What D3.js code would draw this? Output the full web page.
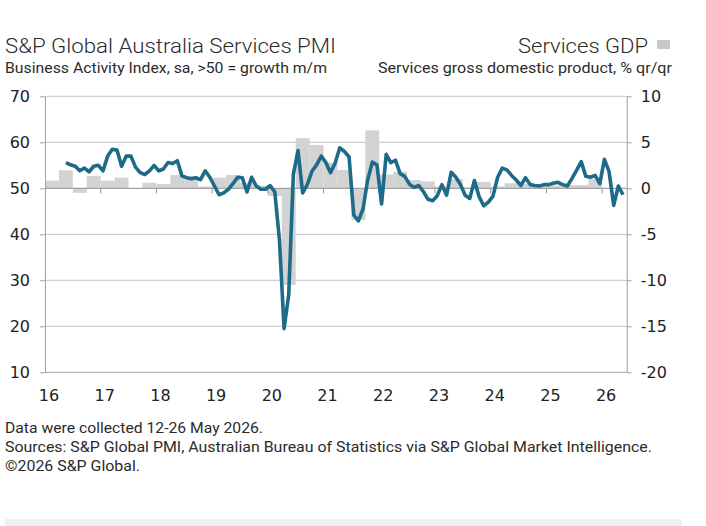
<!DOCTYPE html>
<html>
<head>
<meta charset="utf-8">
<script src="https://cdn.jsdelivr.net/npm/d3@7"></script>
<style>
  body { margin: 0; background: #fff; }
  svg text { font-family: "DejaVu Sans", sans-serif; }
</style>
</head>
<body>
<svg id="chart" width="706" height="526"></svg>
<script>
// PMI, monthly, first value = May 2016 (month 4 counted from Jan 2016)
const pmiStartMonth = 4;
const pmiValues = [
  55.6, 55.1, 54.8, 53.8, 54.4, 53.6, 54.8, 55.0,                         // 2016
  53.8, 57.0, 58.5, 58.3, 54.8, 57.0, 57.0, 54.6, 53.4, 53.0, 53.8, 55.0, // 2017
  53.8, 54.2, 55.6, 55.4, 56.0, 52.7, 52.3, 52.1, 52.3, 51.9, 53.8, 52.4, // 2018
  50.5, 48.6, 49.0, 49.8, 51.0, 52.4, 52.3, 49.2, 52.4, 50.5, 49.8, 49.8, // 2019
  50.6, 49.2, 38.8, 19.5, 26.9, 53.1, 58.2, 49.0, 50.8, 53.7, 55.1, 57.0, // 2020
  55.6, 53.4, 55.5, 58.8, 58.0, 56.8, 44.2, 42.9, 45.5, 51.8, 55.7, 55.1, // 2021
  46.6, 57.4, 55.6, 56.1, 53.2, 52.6, 50.9, 50.2, 50.6, 49.3, 47.6, 47.3, // 2022
  48.4, 50.8, 48.5, 53.5, 52.4, 50.8, 48.5, 47.8, 51.7, 48.2, 46.2, 47.0, // 2023
  48.3, 52.4, 54.4, 54.0, 52.8, 51.8, 50.6, 52.3, 50.8, 50.6, 50.5, 50.8, // 2024
  50.8, 51.1, 51.3, 50.8, 50.5, 52.1, 53.9, 55.8, 52.6, 52.4, 52.8, 51.0, // 2025
  56.3, 53.6, 46.3, 50.5, 48.6                                            // 2026
];

// Services GDP % q/q, quarterly from Q1 2016
const gdpValues = [
  0.83, 1.96, -0.5, 1.34,
  0.83, 1.15, 0.0, 0.6,
  0.47, 1.45, 0.95, 0.2,
  1.15, 1.45, 0.6, 0.3,
  -0.85, -10.5, 5.45, 4.7,
  2.8, 2.0, -3.45, 6.3,
  1.5, 1.8, 0.9, 0.75,
  0.2, 1.0, 0.1, 0.7,
  0.2, 0.55, 0.5, 0.3,
  0.3, 0.36, 0.36, 1.0
];

const yearLabels = ["16", "17", "18", "19", "20", "21", "22", "23", "24", "25", "26"];
const pmiTicks = [10, 20, 30, 40, 50, 60, 70];
const gdpTicks = [-20, -15, -10, -5, 0, 5, 10];

const svg = d3.select("#chart");

// plot box
const plotLeft = 45, plotRight = 626.7, plotTop = 96.3, plotBottom = 372.3;

const x = d3.scaleLinear().domain([0, 125.3]).range([plotLeft, plotRight]);   // months since Jan 2016
const yL = d3.scaleLinear().domain([10, 70]).range([plotBottom, plotTop]);
const yR = d3.scaleLinear().domain([-20, 10]).range([plotBottom, plotTop]);

// gridlines
svg.append("g")
  .selectAll("line")
  .data(pmiTicks.filter(d => d !== 10 && d !== 50))
  .join("line")
  .attr("x1", plotLeft).attr("x2", plotRight)
  .attr("y1", d => yL(d)).attr("y2", d => yL(d))
  .attr("stroke", "#c4c4c4")
  .attr("stroke-width", 1);

// GDP bars
const qWidth = x(3) - x(0);
svg.append("g")
  .selectAll("rect")
  .data(gdpValues)
  .join("rect")
  .attr("x", (d, i) => x(i * 3))
  .attr("width", qWidth)
  .attr("y", d => yR(Math.max(0, d)))
  .attr("height", d => Math.abs(yR(d) - yR(0)))
  .attr("fill", "#d3d3d3");

// 50 line with year ticks
svg.append("line")
  .attr("x1", plotLeft).attr("x2", plotRight)
  .attr("y1", yL(50)).attr("y2", yL(50))
  .attr("stroke", "#8f8f8f");

svg.append("g")
  .selectAll("line")
  .data(d3.range(1, 11))
  .join("line")
  .attr("x1", d => x(d * 12)).attr("x2", d => x(d * 12))
  .attr("y1", yL(50)).attr("y2", yL(50) + 5)
  .attr("stroke", "#8f8f8f");

// bottom line
svg.append("line")
  .attr("x1", plotLeft).attr("x2", plotRight)
  .attr("y1", plotBottom).attr("y2", plotBottom)
  .attr("stroke", "#a0a0a0");

// left axis
const axL = svg.append("g")
  .attr("transform", `translate(${plotLeft},0)`)
  .call(d3.axisLeft(yL).tickValues(pmiTicks).tickSize(5).tickSizeOuter(0).tickPadding(10));

// right axis
const axR = svg.append("g")
  .attr("transform", `translate(${plotRight},0)`)
  .call(d3.axisRight(yR).tickValues(gdpTicks).tickSize(5).tickSizeOuter(0).tickPadding(9)
    .tickFormat(d => d));

[axL, axR].forEach(ax => {
  ax.select(".domain").attr("stroke", "#a0a0a0");
  ax.selectAll(".tick line").attr("stroke", "#a0a0a0");
  ax.selectAll(".tick text")
    .attr("fill", "#222")
    .style("font-size", "16px")
    .style("font-family", "'DejaVu Sans'");
});

// x labels
svg.append("g")
  .selectAll("text")
  .data(yearLabels)
  .join("text")
  .attr("x", (d, i) => x(i * 12) + 4)
  .attr("y", 401)
  .attr("text-anchor", "middle")
  .attr("fill", "#222")
  .style("font-size", "16px")
  .text(d => d);

// PMI line
const line = d3.line()
  .x((d, i) => x(pmiStartMonth + i + 0.5))
  .y(d => yL(d));

svg.append("path")
  .datum(pmiValues)
  .attr("d", line)
  .attr("fill", "none")
  .attr("stroke", "#1e6a89")
  .attr("stroke-width", 3.6)
  .attr("stroke-linejoin", "round")
  .attr("stroke-linecap", "butt");

// titles
function label(txt, xPos, yPos, size, len, opts = {}) {
  return svg.append("text")
    .attr("x", xPos)
    .attr("y", yPos)
    .attr("text-anchor", opts.anchor || "start")
    .attr("fill", opts.fill || "#2b2b2b")
    .attr("textLength", len)
    .attr("lengthAdjust", "spacingAndGlyphs")
    .style("font-family", "Roboto, 'Open Sans', sans-serif")
    .style("font-weight", opts.weight || 400)
    .style("font-size", size + "px")
    .text(txt);
}

label("S&P Global Australia Services PMI", 5, 53, 21, 331, { weight: 300 });
label("Business Activity Index, sa, >50 = growth m/m", 5, 73, 15.5, 322);
label("Services GDP", 648, 53, 21, 130, { weight: 300, anchor: "end" });
label("Services gross domestic product, % qr/qr", 672, 73, 15.5, 294, { anchor: "end" });

svg.append("rect")
  .attr("x", 657).attr("y", 40)
  .attr("width", 13).attr("height", 9)
  .attr("fill", "#c8c8c8");

// footer
label("Data were collected 12-26 May 2026.", 5, 433, 15, 258);
label("Sources: S&P Global PMI, Australian Bureau of Statistics via S&P Global Market Intelligence.", 5, 452, 15, 647);
label("\u00a92026 S&P Global.", 5, 471, 15, 135);

svg.append("rect")
  .attr("x", 5).attr("y", 519)
  .attr("width", 677).attr("height", 7)
  .attr("fill", "#efefef");
</script>
</body>
</html>
